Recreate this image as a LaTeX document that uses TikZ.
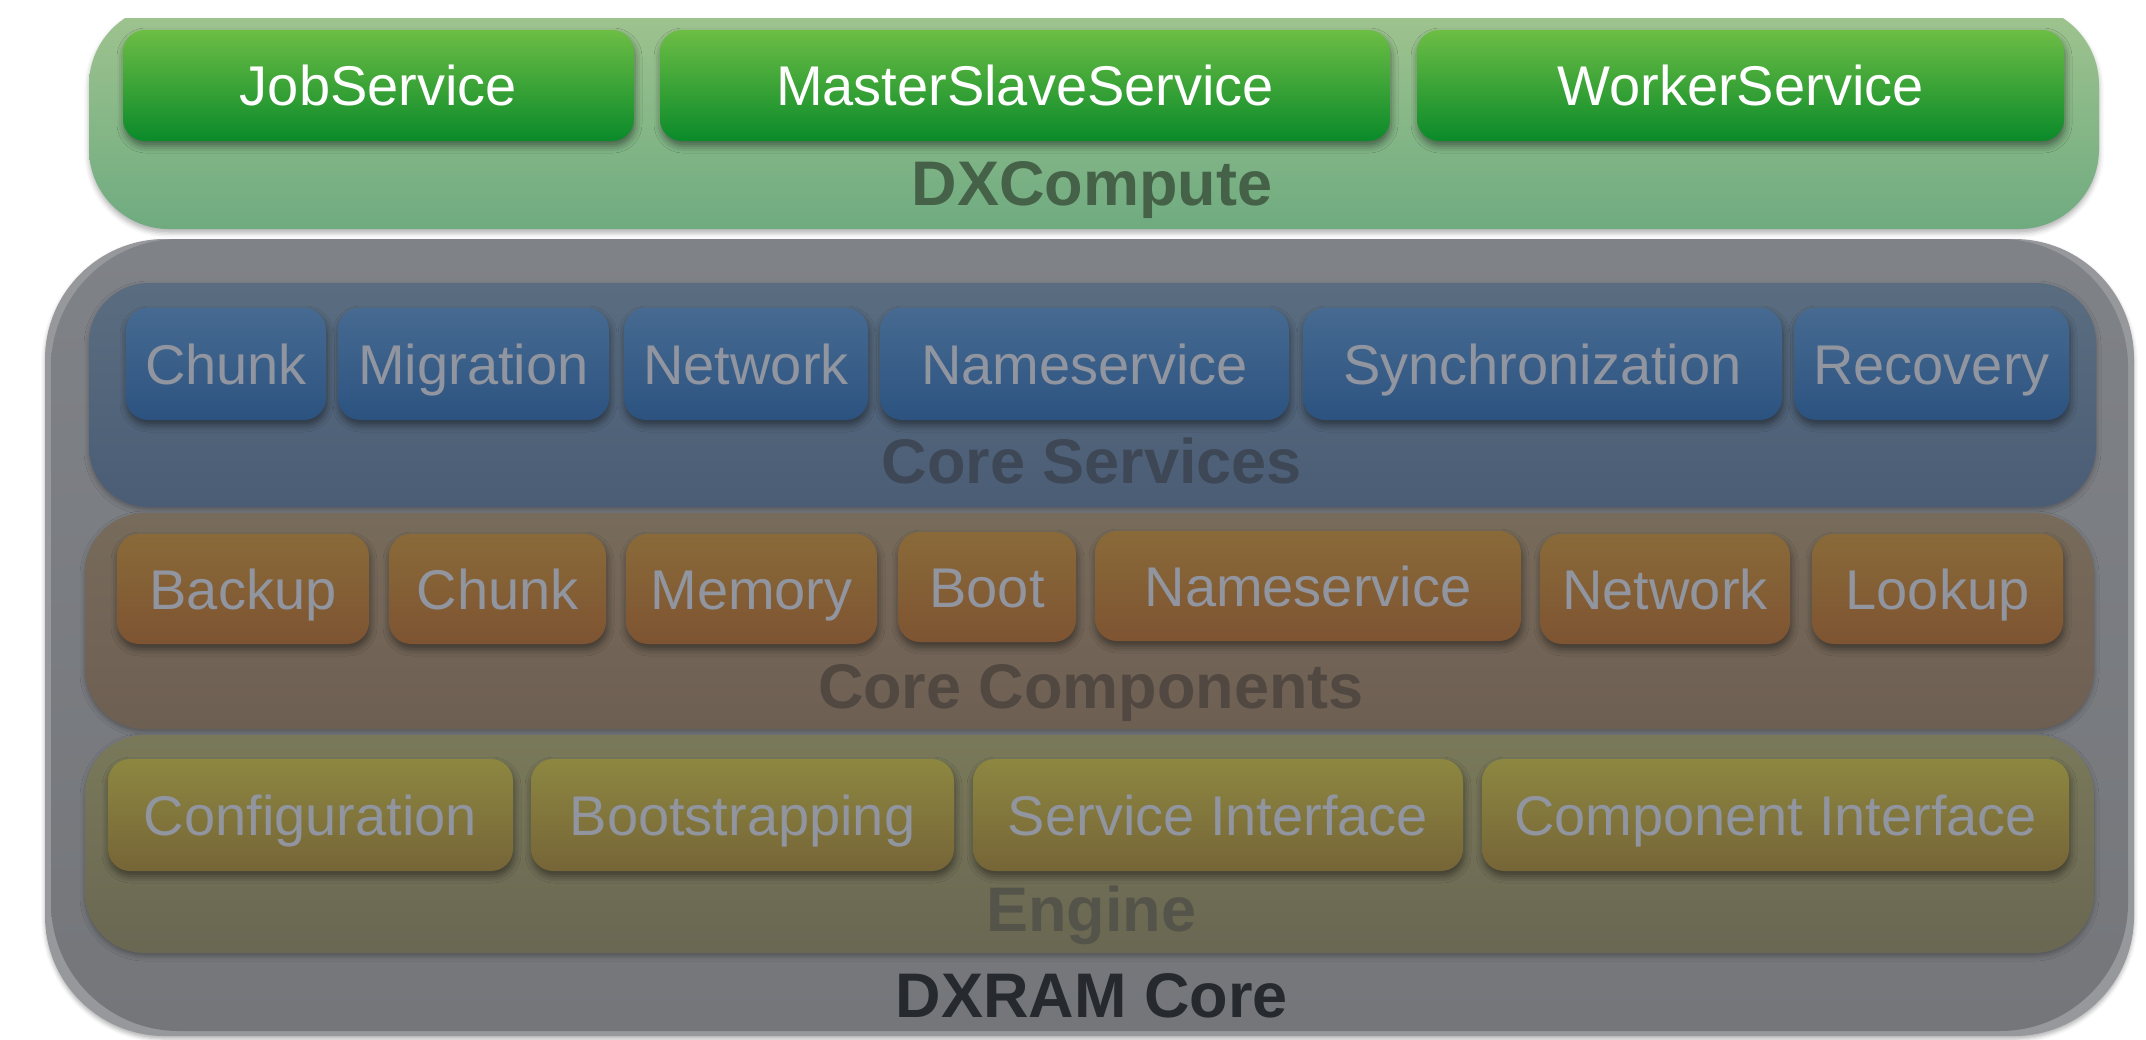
\documentclass[tikz,border=0pt]{standalone}
\usepackage{fontspec}
\setmainfont{Liberation Sans}
\usetikzlibrary{shadows.blur}
\definecolor{gPanTop}{HTML}{A0C48F}
\definecolor{gPanBot}{HTML}{6FAB80}
\definecolor{gBoxTop}{HTML}{6CBD44}
\definecolor{gBoxBot}{HTML}{0A8A2A}
\definecolor{gLab}{HTML}{456148}
\definecolor{grRim}{HTML}{96989C}
\definecolor{grTop}{HTML}{7F8287}
\definecolor{grBot}{HTML}{74767A}
\definecolor{bPanTop}{HTML}{5A6D80}
\definecolor{bPanBot}{HTML}{4B5D75}
\definecolor{bBoxTop}{HTML}{466A91}
\definecolor{bBoxBot}{HTML}{2C5380}
\definecolor{bLab}{HTML}{3D4755}
\definecolor{rPanTop}{HTML}{776B5B}
\definecolor{rPanBot}{HTML}{6E5F53}
\definecolor{rBoxTop}{HTML}{8A6A39}
\definecolor{rBoxBot}{HTML}{7E5432}
\definecolor{rLab}{HTML}{514842}
\definecolor{oPanTop}{HTML}{79795A}
\definecolor{oPanBot}{HTML}{6A6752}
\definecolor{oBoxTop}{HTML}{8D8741}
\definecolor{oBoxBot}{HTML}{766537}
\definecolor{oLab}{HTML}{55544A}
\definecolor{boxText}{HTML}{9195A0}
\definecolor{coreLab}{HTML}{26292D}
\begin{document}
\begin{tikzpicture}[x=1pt,y=-1pt,
  box/.style={rounded corners=22pt, inner sep=0pt, text height=40pt, text depth=0pt,
    font=\fontsize{56}{60}\selectfont, text=boxText,
    blur shadow={shadow xshift=1pt, shadow yshift=-5pt, shadow blur radius=7pt, shadow opacity=45}},
  gbox/.style={box, top color=gBoxTop, bottom color=gBoxBot, text=white, minimum height=111pt},
  bbox/.style={box, top color=bBoxTop, bottom color=bBoxBot, minimum height=112pt},
  rbox/.style={box, top color=rBoxTop, bottom color=rBoxBot, minimum height=110pt},
  obox/.style={box, top color=oBoxTop, bottom color=oBoxBot, minimum height=112pt},
  panel/.style={rounded corners=60pt,
    blur shadow={shadow xshift=0pt, shadow yshift=-3pt, shadow blur radius=5pt, shadow opacity=30}},
  lab/.style={anchor=base, inner sep=0pt, font=\fontsize{63}{66}\selectfont\bfseries}
]
\useasboundingbox (0,0) rectangle (2146,1039);
% DXCompute panel (clipped at top)
\begin{scope}
  \clip (0,18) rectangle (2146,1039);
  \shade[top color=gPanTop, bottom color=gPanBot, rounded corners=80pt,
    blur shadow={shadow xshift=0pt, shadow yshift=-4pt, shadow blur radius=5pt, shadow opacity=30}]
    (89,5) rectangle (2099,229);
\end{scope}
\node[gbox, minimum width=511pt] (job) at (378.5,85.5) {JobService};
\node[gbox, minimum width=730pt] (msl) at (1025,85.5) {MasterSlaveService};
\node[gbox, minimum width=647pt] (wrk) at (1740.5,85.5) {WorkerService};
\node[lab, text=gLab] (dxc) at (1092,205) {DXCompute};
% DXRAM Core outer
\fill[grRim, rounded corners=120pt,
  blur shadow={shadow xshift=0pt, shadow yshift=-3pt, shadow blur radius=4pt, shadow opacity=30}]
  (45,239) rectangle (2134,1036);
\shade[top color=grTop, bottom color=grBot, rounded corners=128pt]
  (51,239) rectangle (2128,1031);
% Core Services
\shade[panel, top color=bPanTop, bottom color=bPanBot] (89,283) rectangle (2096,507);
\node[bbox, minimum width=200pt] (cs1) at (226,364) {Chunk};
\node[bbox, minimum width=271pt] (cs2) at (473.5,364) {Migration};
\node[bbox, minimum width=244pt] (cs3) at (746,364) {Network};
\node[bbox, minimum width=409pt] (cs4) at (1084.5,364) {Nameservice};
\node[bbox, minimum width=479pt] (cs5) at (1542.5,364) {Synchronization};
\node[bbox, minimum width=275pt] (cs6) at (1931.5,364) {Recovery};
\node[lab, text=bLab] (csl) at (1092,483) {Core Services};
% Core Components
\shade[panel, top color=rPanTop, bottom color=rPanBot] (85,513) rectangle (2094,729);
\node[rbox, minimum width=252pt] (cc1) at (243,589) {Backup};
\node[rbox, minimum width=217pt] (cc2) at (497.5,589) {Chunk};
\node[rbox, minimum width=251pt] (cc3) at (751.5,589) {Memory};
\node[rbox, minimum width=178pt] (cc4) at (987,587) {Boot};
\node[rbox, minimum width=426pt] (cc5) at (1308,586) {Nameservice};
\node[rbox, minimum width=250pt] (cc6) at (1665,589) {Network};
\node[rbox, minimum width=251pt] (cc7) at (1937.5,589) {Lookup};
\node[lab, text=rLab] (ccl) at (1091,708) {Core Components};
% Engine
\shade[panel, top color=oPanTop, bottom color=oPanBot] (85,735) rectangle (2094,953);
\node[obox, minimum width=405pt] (en1) at (310.5,815) {Configuration};
\node[obox, minimum width=423pt] (en2) at (742.5,815) {Bootstrapping};
\node[obox, minimum width=490pt] (en3) at (1218,815) {Service Interface};
\node[obox, minimum width=587pt] (en4) at (1775.5,815) {Component Interface};
\node[lab, text=oLab] (enl) at (1091,931) {Engine};
\node[lab, text=coreLab] (core) at (1092,1017) {DXRAM Core};
\end{tikzpicture}
\end{document}
